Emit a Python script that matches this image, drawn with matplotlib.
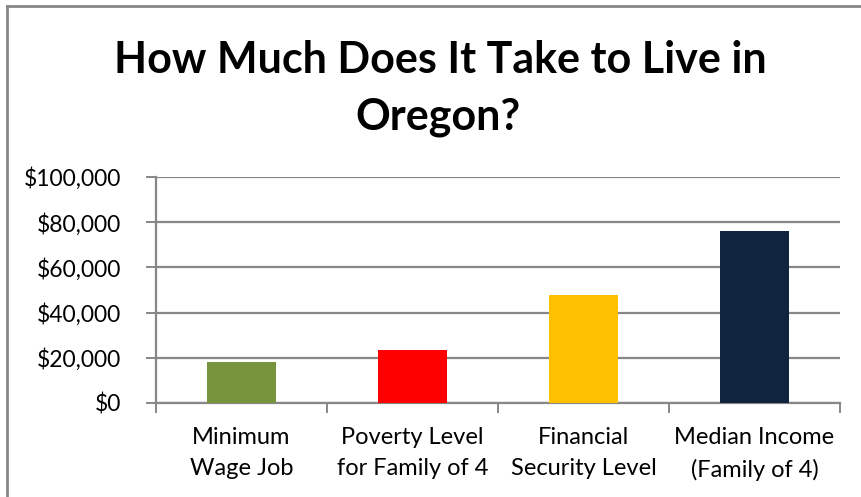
import matplotlib
matplotlib.use("Agg")
import matplotlib.pyplot as plt
import matplotlib.ticker as mticker
from matplotlib.lines import Line2D

# ── Data ─────────────────────────────────────────────────────────────────────
categories = ["Minimum\nWage Job", "Poverty Level\nfor Family of 4",
              "Financial\nSecurity Level", "Median Income\n(Family of 4)"]
values = [18240, 23550, 47800, 76000]
colors = ["#77933C", "#FF0000", "#FFC000", "#10243E"]
y_ticks = [0, 20000, 40000, 60000, 80000, 100000]
title_lines = ["How Much Does It Take to Live in", "Oregon?"]

GRID = "#878787"
FONT = "Lato"
W, H = 861, 497

fig = plt.figure(figsize=(W / 100, H / 100), dpi=100)
ax = fig.add_axes([156 / W, 1 - 403 / H, 684 / W, 226 / H])

x = range(len(categories))
ax.bar(x, values, width=0.40, color=colors, zorder=3)

ax.set_xlim(-0.5, len(categories) - 0.5)
ax.set_ylim(0, 100000)
ax.set_yticks(y_ticks)
ax.yaxis.set_major_formatter(mticker.FuncFormatter(lambda v, _: f"${v:,.0f}"))
ax.grid(axis="y", color=GRID, linewidth=1.6, zorder=0)

# category labels sit between boundary ticks (Excel style)
ax.set_xticks([i - 0.5 for i in range(len(categories) + 1)])
ax.set_xticklabels([])
ax.set_xticks(list(x), minor=True)
ax.set_xticklabels(categories, minor=True, fontsize=17, family=FONT,
                   linespacing=1.6)
ax.tick_params(axis="x", which="minor", length=0, pad=17)
ax.tick_params(axis="x", which="major", length=7, width=1.4, color=GRID)
ax.tick_params(axis="y", length=7, width=1.4, color=GRID, pad=18,
               labelsize=16.5)
for lab in ax.get_yticklabels():
    lab.set_family(FONT)

for side in ["top", "right"]:
    ax.spines[side].set_visible(False)
for side in ["left", "bottom"]:
    ax.spines[side].set_color(GRID)
    ax.spines[side].set_linewidth(1.6)

fig.text(440 / W, 1 - 73 / H, title_lines[0], ha="center", va="baseline",
         fontsize=31, fontweight="bold", family=FONT)
fig.text(438 / W, 1 - 130 / H, title_lines[1], ha="center", va="baseline",
         fontsize=31, fontweight="bold", family=FONT)

# chart area border (left and top visible)
fig.add_artist(Line2D([7 / W, 7 / W], [0, 1 - 6 / H], transform=fig.transFigure,
                      color=GRID, linewidth=2))
fig.add_artist(Line2D([7 / W, 1], [1 - 6 / H, 1 - 6 / H], transform=fig.transFigure,
                      color=GRID, linewidth=2))

fig.savefig("out.png", dpi=100)
